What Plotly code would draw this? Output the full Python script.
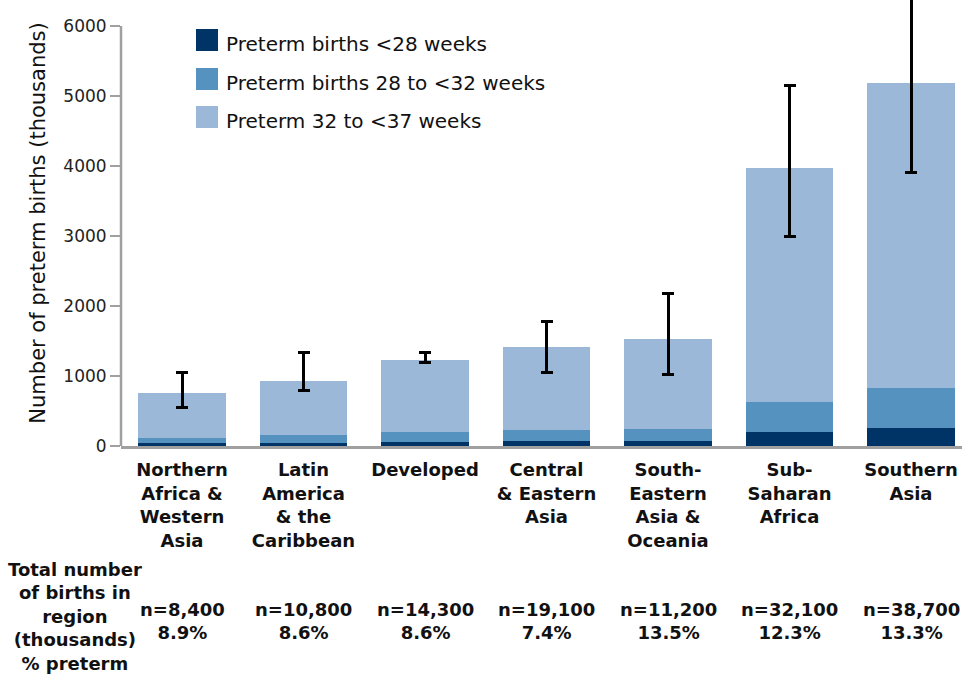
import plotly.graph_objects as go

# ---------------- data ----------------
categories = ["Northern<br>Africa &<br>Western<br>Asia",
              "Latin<br>America<br>& the<br>Caribbean",
              "Developed",
              "Central<br>& Eastern<br>Asia",
              "South-<br>Eastern<br>Asia &<br>Oceania",
              "Sub-<br>Saharan<br>Africa",
              "Southern<br>Asia"]
lt28 = [45, 48, 62, 76, 76, 200, 258]            # <28 weeks
w28_32 = [74, 110, 143, 158, 168, 430, 573]      # 28 to <32 weeks
w32_37 = [640, 773, 1027, 1184, 1289, 3338, 4355]  # 32 to <37 weeks
totals = [a + b + c for a, b, c in zip(lt28, w28_32, w32_37)]
ci_low = [549, 788, 1193, 1056, 1027, 2990, 3911]
ci_high = [1050, 1342, 1342, 1772, 2178, 5153, 6700]
n_births = ["n=8,400", "n=10,800", "n=14,300", "n=19,100", "n=11,200", "n=32,100", "n=38,700"]
pct_preterm = ["8.9%", "8.6%", "8.6%", "7.4%", "13.5%", "12.3%", "13.3%"]
series_names = ["Preterm births <28 weeks", "Preterm births 28 to <32 weeks", "Preterm 32 to <37 weeks"]
yticks = [0, 1000, 2000, 3000, 4000, 5000, 6000]

# ---------------- style / layout ----------------
colors = ["#003366", "#5592bf", "#9cb8d8"]
W, H = 962, 675
L, B = 121, 229
PW, PH = W - L, H - B          # plot area in px
px_per_unit = 0.07
ymax = PH / px_per_unit
x_pitch = 121.5
x0 = -(182 - L) / x_pitch
x1 = 6 + (W - 911) / x_pitch

xs = list(range(len(categories)))
fig = go.Figure()
for vals, name, col in zip([lt28, w28_32, w32_37], series_names, colors):
    kw = {}
    if vals is w32_37:
        kw["error_y"] = dict(type="data", symmetric=False,
                             array=[h - t for h, t in zip(ci_high, totals)],
                             arrayminus=[t - l for t, l in zip(totals, ci_low)],
                             color="black", thickness=3, width=6)
    fig.add_trace(go.Bar(x=xs, y=vals, name=name, marker_color=col,
                         marker_line_width=0, width=0.724, showlegend=False, **kw))

def px2paper_x(p):
    return (p - L) / PW

def px2paper_y(p):
    return (PH - p) / PH

shapes = [dict(type="line", xref="paper", yref="y", x0=0, x1=0, y0=0, y1=6000,
               line=dict(color="#a0a0a0", width=2.5))]
annotations = []
legend_rows = [(29, 44), (68, 83), (106, 121)]
for (sq_top, txt_c), name, col in zip(legend_rows, series_names, colors):
    shapes.append(dict(type="rect", xref="paper", yref="paper",
                       x0=px2paper_x(196), x1=px2paper_x(218),
                       y0=px2paper_y(sq_top + 22), y1=px2paper_y(sq_top),
                       fillcolor=col, line=dict(width=0)))
    annotations.append(dict(xref="paper", yref="paper", x=px2paper_x(224), y=px2paper_y(txt_c),
                            xanchor="left", yanchor="middle", showarrow=False, text=name,
                            font=dict(family="DejaVu Sans", size=20, color="#111")))

for i, (n, p) in enumerate(zip(n_births, pct_preterm)):
    annotations.append(dict(xref="x", yref="paper", x=i, y=px2paper_y(621),
                            xanchor="center", yanchor="middle", showarrow=False,
                            text=n + "<br>" + p,
                            font=dict(family="DejaVu Sans", size=18, color="#111", weight="bold")))
annotations.append(dict(xref="paper", yref="paper", x=px2paper_x(75), y=px2paper_y(616),
                        xanchor="center", yanchor="middle", showarrow=False,
                        text="Total number<br>of births in<br>region<br>(thousands)<br>% preterm",
                        font=dict(family="DejaVu Sans", size=18, color="#111", weight="bold")))

fig.update_layout(
    width=W, height=H,
    margin=dict(l=L, r=0, t=0, b=B, pad=0, autoexpand=False),
    barmode="stack", bargap=0,
    plot_bgcolor="white", paper_bgcolor="white",
    shapes=shapes, annotations=annotations,
    xaxis=dict(range=[x0, x1], tickmode="array", tickvals=xs, ticktext=categories,
               showline=True, linecolor="#a0a0a0", linewidth=2.5, ticks="",
               showgrid=False, zeroline=False, automargin=False, ticklabelstandoff=6,
               tickfont=dict(family="DejaVu Sans", size=18, color="#111", weight="bold")),
    yaxis=dict(range=[0, ymax], tickmode="array", tickvals=yticks,
               ticks="outside", ticklen=10, tickwidth=2, tickcolor="#a0a0a0",
               showline=False, showgrid=False, zeroline=False, automargin=False,
               tickfont=dict(family="DejaVu Sans", size=17, color="#222"),
               title=dict(text="Number of preterm births (thousands)", standoff=11,
                          font=dict(family="DejaVu Sans", size=21, color="#111"))),
)
fig.write_html("out.html", config={"displayModeBar": False},
               post_script="document.body.style.margin='0';")
